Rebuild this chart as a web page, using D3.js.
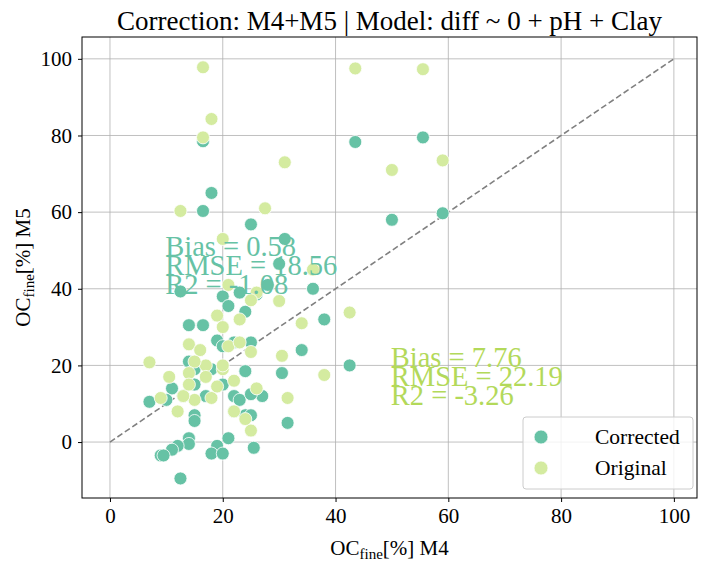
<!DOCTYPE html>
<html><head><meta charset="utf-8">
<script src="https://cdn.jsdelivr.net/npm/d3@7"></script>
<style>body{margin:0;background:#fff}text{font-family:"Liberation Serif","DejaVu Serif",serif}</style>
</head><body><svg id="chart"></svg>
<script>
// Scatter of corrected vs original OC values
const ticks = [0, 20, 40, 60, 80, 100];
const correctedX = [16.5,43.5,55.5,18,16.5,25,50,59,31,30,36,20,23,26,28,21,12.5,24,14,16.5,38,19,22,25,20,34,24,18,14,15,15,13,11,7,10,17,15,22,22,24,25,30.5,31.5,42.5,19,21,14,14,12,11,25.5,18,20,9,9.5,12.5,23,20,27,25,15];
const correctedY = [78.5,78.3,79.5,65,60.3,56.8,58,59.7,53,46.5,40,38,39,38.5,41,35.5,39.3,34,30.5,30.5,32,26.5,26,26,25,24,18.5,19,21,19,15,12,14,10.5,11,12,7,12,8,7,7,18,5,20,-1,1,1,-0.5,-1,-2,-1.5,-3,-3,-3.5,-3.5,-9.5,11,15,12,12.5,5.5];
const originalX = [16.5,43.5,55.5,18,16.5,31,50,59,27.5,12.5,20,36,21,26,23,30,25,14,16,19,20,21,23,17,20,15,14,10.5,7,34,42.5,38,30.5,31.5,25,22,18,15,12,13,9,25,19,24,20,17,26,22,14];
const originalY = [97.8,97.5,97.3,84.3,79.5,73,71,73.5,61,60.3,53,45,41,39,32,36.8,37,25.5,24,33,30,25,26,20,19,21,18,17,20.8,31,33.8,17.5,22.5,11.5,23.5,16,11.5,11,8,12,11.5,3,14.5,6,20,17,14,8,15];
const statsCorrected = ["Bias = 0.58", "RMSE = 18.56", "R2 = -1.08"];
const statsOriginal = ["Bias = 7.76", "RMSE = 22.19", "R2 = -3.26"];

const width = 711, height = 568;
const margins = {top: 37, bottom: 70, left: 82, right: 14};
const svg = d3.select('#chart').attr("width", width).attr("height", height);

const x = d3.scaleLinear().domain([-4.96, 104.1]).range([margins.left, width - margins.right]);
const y = d3.scaleLinear().domain([-14.6, 105.7]).range([height - margins.bottom, margins.top]);
const cCol = "#66c2a5", oCol = "#d4eba0", oText = "#b3d95a";

// Grid lines
svg.append('g').selectAll('line.gx').data(ticks).join('line')
  .attr("x1", d => x(d)).attr("x2", d => x(d))
  .attr("y1", margins.top).attr("y2", height - margins.bottom)
  .attr("stroke", "#b0b0b0").attr("stroke-width", 0.8);
svg.append('g').selectAll('line.gy').data(ticks).join('line')
  .attr("y1", d => y(d)).attr("y2", d => y(d))
  .attr("x1", margins.left).attr("x2", width - margins.right)
  .attr("stroke", "#b0b0b0").attr("stroke-width", 0.8);

// Identity line
svg.append('line')
  .attr("x1", x(0)).attr("y1", y(0)).attr("x2", x(100)).attr("y2", y(100))
  .attr("stroke", "#808080").attr("stroke-width", 1.6).attr("stroke-dasharray", "6,3");

// Points
const dots = (xs, ys, col) => svg.append('g').selectAll('circle').data(xs).join('circle')
  .attr("cx", d => x(d)).attr("cy", (d, i) => y(ys[i])).attr("r", 6.5)
  .attr("fill", col).attr("stroke", "#fff").attr("stroke-width", 0.8);
dots(correctedX, correctedY, cCol);
dots(originalX, originalY, oCol);

// Frame
svg.append('rect').attr("x", margins.left).attr("y", margins.top)
  .attr("width", width - margins.left - margins.right)
  .attr("height", height - margins.top - margins.bottom)
  .attr("fill", "none").attr("stroke", "#000").attr("stroke-width", 1);

// Axes
const xAxis = svg.append('g').attr("transform", `translate(0,${height - margins.bottom})`)
  .call(d3.axisBottom(x).tickValues(ticks).tickSize(4).tickPadding(6));
const yAxis = svg.append('g').attr("transform", `translate(${margins.left},0)`)
  .call(d3.axisLeft(y).tickValues(ticks).tickSize(4).tickPadding(6));
[xAxis, yAxis].forEach(a => {
  a.select('.domain').remove();
  a.selectAll('text').attr("font-size", 21).attr("fill", "#000")
    .style("font-family", '"Liberation Serif", serif');
});

// Stats text
const stats = (lines, sx, sy, col) => svg.append('g').selectAll('text').data(lines).join('text')
  .attr("x", x(sx)).attr("y", (d, i) => y(sy) + i * 19)
  .attr("font-size", 28.5).attr("fill", col).text(d => d);
stats(statsCorrected, 9.8, 48.5, cCol);
stats(statsOriginal, 49.8, 19.5, oText);

// Title and labels
svg.append('text').attr("x", (margins.left + width - margins.right) / 2).attr("y", 30)
  .attr("text-anchor", "middle").attr("font-size", 27)
  .text("Correction: M4+M5 | Model: diff ~ 0 + pH + Clay");
const xl = svg.append('text').attr("x", (margins.left + width - margins.right) / 2).attr("y", 555)
  .attr("text-anchor", "middle").attr("font-size", 21);
xl.append('tspan').text("OC");
xl.append('tspan').attr("font-size", 15).attr("dy", 4).text("fine");
xl.append('tspan').attr("dy", -4).text("[%] M4");
const yl = svg.append('text').attr("transform", `translate(30,${(margins.top + height - margins.bottom) / 2}) rotate(-90)`)
  .attr("text-anchor", "middle").attr("font-size", 21);
yl.append('tspan').text("OC");
yl.append('tspan').attr("font-size", 15).attr("dy", 4).text("fine");
yl.append('tspan').attr("dy", -4).text("[%] M5");

// Legend
const lg = svg.append('g');
lg.append('rect').attr("x", 523).attr("y", 417).attr("width", 170).attr("height", 72).attr("rx", 3)
  .attr("fill", "#fff").attr("fill-opacity", 0.8).attr("stroke", "#ccc");
[["Corrected", cCol], ["Original", oCol]].forEach(([name, col], i) => {
  lg.append('circle').attr("cx", 541).attr("cy", 437 + i * 31).attr("r", 7).attr("fill", col)
    .attr("stroke", "#fff").attr("stroke-width", 0.8);
  lg.append('text').attr("x", 595).attr("y", 444 + i * 31).attr("font-size", 21.5).text(name);
});
</script></body></html>
